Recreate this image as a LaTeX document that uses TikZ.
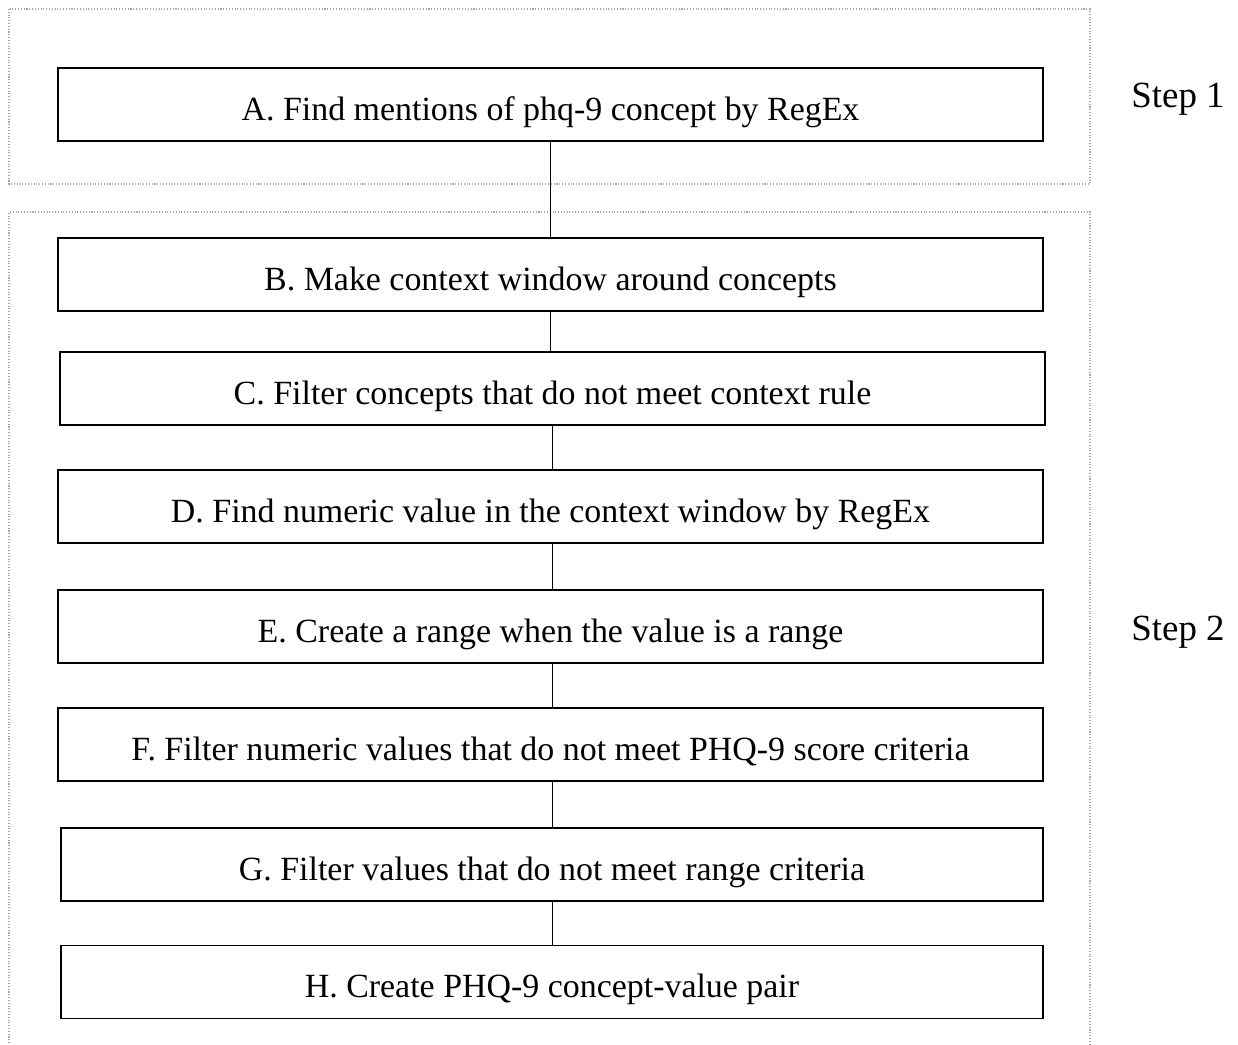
\documentclass[tikz,border=0pt]{standalone}
\usepackage{fontspec}
\setmainfont{Liberation Serif}
\usepackage{tikz}

\tikzset{
  stepbox/.style={draw=black,line width=1.1pt,fill=white,minimum width=19.7cm,minimum height=1.46cm,inner sep=0pt,text height=17.8pt,text depth=0pt,font=\fontsize{19.3}{21}\selectfont},
  frame/.style={draw=gray!70,line width=0.6pt,densely dotted},
  steplabel/.style={font=\fontsize{21}{24}\selectfont}
}

\begin{document}
\begin{tikzpicture}[x=0.02cm,y=-0.02cm]
\useasboundingbox (0,0) rectangle (1238,1045);
\draw[frame] (9,9) rectangle (1090,184);
\draw[frame] (9,1060) -- (9,212) -- (1090,212) -- (1090,1060);

\node (a) at (550.5,104.5) [stepbox] {A. Find mentions of phq-9 concept by RegEx};
\node (b) at (550.5,274.5) [stepbox] {B. Make context window around concepts};
\node (c) at (552.5,388.5) [stepbox] {C. Filter concepts that do not meet context rule};
\node (d) at (550.5,506.5) [stepbox] {D. Find numeric value in the context window by RegEx};
\node (e) at (550.5,626.5) [stepbox] {E. Create a range when the value is a range};
\node (f) at (550.5,744.5) [stepbox] {F. Filter numeric values that do not meet PHQ-9 score criteria};
\node (g) at (552,864.5) [stepbox,minimum width=19.64cm] {G. Filter values that do not meet range criteria};
\node (h) at (552,982) [stepbox,minimum width=19.64cm] {H. Create PHQ-9 concept-value pair};

\draw (a.south) -- (a.south |- b.north);
\draw (b.south) -- (b.south |- c.north);
\draw (c.south) -- (c.south |- d.north);
\draw (c.south |- d.south) -- (c.south |- e.north);
\draw (c.south |- e.south) -- (c.south |- f.north);
\draw (g.north |- f.south) -- (g.north);
\draw (g.south) -- (g.south |- h.north);

\node (s1) at (1178,99) [steplabel] {Step 1};
\node (s2) at (1178,632) [steplabel] {Step 2};
\end{tikzpicture}
\end{document}
